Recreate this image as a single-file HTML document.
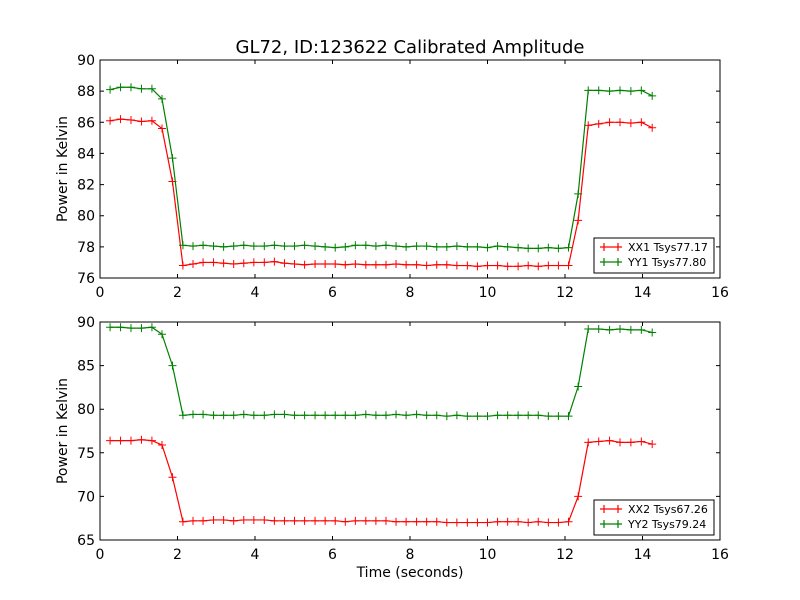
<!DOCTYPE html>
<html><head><meta charset="utf-8"><style>
body{margin:0;background:#fff}
svg{display:block;font-family:"DejaVu Sans","Liberation Sans",sans-serif}
</style></head><body>
<svg id="c" width="800" height="600" viewBox="0 0 800 600">
<rect width="800" height="600" fill="#fff"/>
<text x="410" y="53" font-size="18" text-anchor="middle">GL72, ID:123622 Calibrated Amplitude</text>
</svg>
<script>
const times=[0.26,0.53,0.80,1.07,1.34,1.60,1.87,2.14,2.40,2.66,2.93,3.19,3.45,3.71,3.97,4.24,4.50,4.76,5.02,5.28,5.55,5.81,6.07,6.33,6.59,6.86,7.12,7.38,7.64,7.90,8.17,8.43,8.69,8.95,9.21,9.48,9.74,10.00,10.26,10.52,10.79,11.05,11.31,11.57,11.83,12.09,12.34,12.60,12.87,13.15,13.42,13.70,13.97,14.25];
const xx1=[86.1,86.2,86.15,86.05,86.1,85.6,82.2,76.8,76.9,77.0,77.0,76.95,76.9,76.95,77.0,77.0,77.05,76.95,76.9,76.85,76.9,76.9,76.9,76.85,76.9,76.85,76.85,76.85,76.9,76.85,76.85,76.8,76.85,76.85,76.8,76.8,76.75,76.8,76.8,76.75,76.75,76.8,76.75,76.8,76.8,76.8,79.7,85.8,85.9,86.0,86.0,85.95,86.0,85.65];
const yy1=[88.1,88.25,88.25,88.15,88.15,87.5,83.7,78.1,78.05,78.1,78.05,78.0,78.05,78.1,78.05,78.05,78.1,78.05,78.05,78.1,78.05,78.0,77.95,78.0,78.1,78.1,78.05,78.1,78.05,78.0,78.05,78.05,78.0,78.0,78.05,78.0,78.0,77.95,78.05,78.0,77.95,77.9,77.9,77.95,77.9,77.95,81.4,88.05,88.05,88.0,88.05,88.0,88.05,87.7];
const xx2=[76.4,76.4,76.4,76.5,76.4,75.9,72.2,67.1,67.2,67.2,67.3,67.3,67.2,67.3,67.3,67.3,67.2,67.2,67.2,67.2,67.2,67.2,67.2,67.1,67.2,67.2,67.2,67.2,67.1,67.1,67.1,67.1,67.1,67.0,67.0,67.0,67.0,67.0,67.1,67.1,67.1,67.0,67.1,67.0,67.0,67.1,70.0,76.2,76.3,76.4,76.2,76.2,76.3,76.0];
const yy2=[89.4,89.4,89.3,89.3,89.4,88.6,85.0,79.3,79.4,79.4,79.3,79.3,79.3,79.4,79.3,79.3,79.4,79.4,79.3,79.3,79.3,79.3,79.3,79.3,79.3,79.4,79.3,79.3,79.4,79.3,79.4,79.3,79.3,79.2,79.3,79.2,79.2,79.2,79.3,79.3,79.3,79.3,79.3,79.2,79.2,79.2,82.6,89.2,89.2,89.1,89.2,89.1,89.1,88.8];
const xTicks=[0,2,4,6,8,10,12,14,16];
const yTicksTop=[76,78,80,82,84,86,88,90];
const yTicksBot=[65,70,75,80,85,90];
const legendTop=["XX1 Tsys77.17","YY1 Tsys77.80"];
const legendBot=["XX2 Tsys67.26","YY2 Tsys79.24"];

const svg=document.getElementById('c');
const NS="http://www.w3.org/2000/svg";
function mk(tag,attrs,parent){const e=document.createElementNS(NS,tag);for(const k in attrs)e.setAttribute(k,attrs[k]);(parent||svg).appendChild(e);return e;}

function panel(name,top,bottom,ymin,ymax,yTicks,s1,s2,leg,showXLabel){
  const L=100,R=720;
  const g=mk('g',{});
  
  
  const xs=v=>L+(v-0)/(16-0)*(R-L);
  const ys=v=>bottom-(v-ymin)/(ymax-ymin)*(bottom-top);
  [[s1,'#ff0000','series-xx'],[s2,'#008000','series-yy']].forEach(([d,col,nm])=>{
    const pts=d.map((v,i)=>xs(times[i]).toFixed(2)+','+ys(v).toFixed(2)).join(' ');
    const pl=mk('polyline',{points:pts,fill:'none',stroke:col,'stroke-width':1.2},g);
    
    
    d.forEach((v,i)=>{const x=xs(times[i]),y=ys(v);
      const p=mk('path',{d:`M${x-4},${y}H${x+4}M${x},${y-4}V${y+4}`,stroke:col,'stroke-width':1},g);
      
      });
  });
  const fr=mk('rect',{x:L,y:top,width:R-L,height:bottom-top,fill:'none',stroke:'#000','stroke-width':1},g);
  
  
  xTicks.forEach(t=>{const x=xs(t);
    mk('path',{d:`M${x},${bottom}v-4M${x},${top}v4`,stroke:'#000'},g);
    const tx=mk('text',{x:x,y:bottom+19,'font-size':14,'text-anchor':'middle'},g);tx.textContent=t;
    
    });
  yTicks.forEach(t=>{const y=ys(t);
    mk('path',{d:`M${L},${y}h4M${R},${y}h-4`,stroke:'#000'},g);
    const tx=mk('text',{x:L-5,y:y+5,'font-size':14,'text-anchor':'end'},g);tx.textContent=t;
    
    });
  const yl=mk('text',{x:0,y:0,'font-size':14,'text-anchor':'middle',transform:`translate(67,${(top+bottom)/2}) rotate(-90)`},g);
  yl.textContent='Power in Kelvin';
  
  
  if(showXLabel){const xl=mk('text',{x:410,y:577,'font-size':14,'text-anchor':'middle'},g);xl.textContent='Time (seconds)';
    
    }
  const lg=mk('g',{},g);
  
  
  const ly=bottom-40;
  mk('rect',{x:594,y:ly,width:120,height:35,fill:'#fff',stroke:'#000'},lg);
  ['#ff0000','#008000'].forEach((col,i)=>{const y=ly+9+i*15;
    mk('path',{d:`M600,${y}H622M604,${y-4}v8M618,${y-4}v8`,stroke:col,'stroke-width':1.2},lg);
    const t=mk('text',{x:628,y:y+4,'font-size':11},lg);t.textContent=leg[i];
    
    });
}
panel('top-panel',60,278,76,90,yTicksTop,xx1,yy1,legendTop,false);
panel('bottom-panel',322,540,65,90,yTicksBot,xx2,yy2,legendBot,true);
</script>
</body></html>
